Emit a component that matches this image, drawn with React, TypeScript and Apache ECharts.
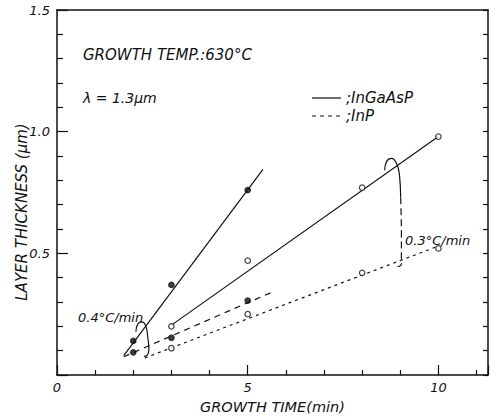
import React, { useEffect, useRef } from "react";
import * as echarts from "echarts";

// ---- data ----
const xLabels = ["0", "5", "10"];
const yLabels = ["0.5", "1.0", "1.5"];

// 0.4 °C/min
const ingaasp04Points = [[2, 0.14], [3, 0.37], [5, 0.76]];
const ingaasp04Line = [[1.75, 0.08], [5.4, 0.845]];
const inp04Points = [[2, 0.093], [3, 0.153], [5, 0.306]];
const inp04Line = [[1.75, 0.075], [5.63, 0.34]];

// 0.3 °C/min
const ingaasp03Points = [[3, 0.2], [5, 0.47], [8, 0.77], [10, 0.98]];
const ingaasp03Line = [[3, 0.205], [10, 0.98]];
const inp03Points = [[3, 0.11], [5, 0.25], [8, 0.42], [10, 0.52]];
const inp03Line = [[2.3, 0.07], [10, 0.53]];

// hand-drawn brackets linking the two layers of one run
const bracket04 = [
  [2.07, 0.178], [2.12, 0.21], [2.23, 0.218], [2.33, 0.2],
  [2.38, 0.154], [2.41, 0.105], [2.36, 0.081], [2.28, 0.077],
];
const bracket03Top = [
  [8.59, 0.841], [8.64, 0.877], [8.77, 0.89], [8.9, 0.87],
  [8.98, 0.82], [9.01, 0.73],
];
const bracket03Bottom = [
  [9.01, 0.73], [9.03, 0.57], [9.03, 0.457], [8.93, 0.445],
];

const FONT = "DejaVu Sans";
const INK = "#111";

export default function App() {
  const ref = useRef<HTMLDivElement>(null);

  useEffect(() => {
    if (!ref.current) return;
    const chart = echarts.init(ref.current, undefined, { renderer: "svg" });

    const lineSeries = (data: number[][], type: any, smooth = false) => ({
      type: "line",
      data,
      showSymbol: false,
      symbol: "none",
      smooth,
      lineStyle: { color: INK, width: 1.2, type },
      z: 2,
      silent: true,
    });
    const pointSeries = (data: number[][], filled: boolean) => ({
      type: "scatter",
      data,
      symbol: "circle",
      symbolSize: filled ? 5.5 : 5.5,
      itemStyle: {
        color: filled ? INK : "#fff",
        borderColor: INK,
        borderWidth: 1.2,
      },
      z: 3,
      silent: true,
    });

    const fmtY = (v: number) => {
      const k = Math.round(v * 10);
      if (k === 5) return yLabels[0];
      if (k === 10) return yLabels[1];
      if (k === 15) return yLabels[2];
      return "";
    };
    const fmtX = (v: number) => {
      const k = Math.round(v);
      if (k === 0) return xLabels[0];
      if (k === 5) return xLabels[1];
      if (k === 10) return xLabels[2];
      return "";
    };

    const labelStyle = {
      fontFamily: FONT,
      fontStyle: "italic",
      fontSize: 13,
      color: INK,
    };
    const txt = (text: string, x: number, y: number, size: number, rotation = 0, align = "left") => ({
      type: "text",
      x,
      y,
      rotation,
      style: {
        text,
        fontFamily: FONT,
        fontStyle: "italic",
        fontSize: size,
        fill: INK,
        align,
        verticalAlign: "middle",
      },
    });

    chart.setOption({
      animation: false,
      backgroundColor: "#fff",
      grid: { left: 57, top: 10, right: 2, bottom: 38, containLabel: false },
      xAxis: [
        {
          type: "value",
          min: 0,
          max: 11.3,
          interval: 5,
          position: "bottom",
          axisLine: { show: true, onZero: false, lineStyle: { color: INK, width: 1.5 } },
          axisTick: { show: true, inside: true, length: 10, lineStyle: { color: INK, width: 1.2 } },
          minorTick: { show: true, splitNumber: 5, length: 5, lineStyle: { color: INK, width: 1.2 } },
          axisLabel: { ...labelStyle, formatter: fmtX, margin: 6, showMaxLabel: false },
          splitLine: { show: false },
          name: "GROWTH TIME(min)",
          nameLocation: "middle",
          nameGap: 24,
          nameTextStyle: { ...labelStyle, fontSize: 14.5 },
        },
        {
          type: "value",
          min: 0,
          max: 11.3,
          position: "top",
          axisLine: { show: true, onZero: false, lineStyle: { color: INK, width: 1.5 } },
          axisTick: { show: false },
          axisLabel: { show: false },
          splitLine: { show: false },
        },
      ],
      yAxis: [
        {
          type: "value",
          min: 0,
          max: 1.5,
          interval: 0.5,
          position: "left",
          axisLine: { show: true, onZero: false, lineStyle: { color: INK, width: 1.5 } },
          axisTick: { show: true, inside: true, length: 11, lineStyle: { color: INK, width: 1.2 } },
          minorTick: { show: true, splitNumber: 5, length: 6, lineStyle: { color: INK, width: 1.2 } },
          axisLabel: { ...labelStyle, formatter: fmtY, margin: 7 },
          splitLine: { show: false },
        },
        {
          type: "value",
          min: 0,
          max: 1.5,
          interval: 0.5,
          position: "right",
          axisLine: { show: true, onZero: false, lineStyle: { color: INK, width: 1.5 } },
          axisTick: { show: true, inside: true, length: 5, lineStyle: { color: INK, width: 1.2 } },
          minorTick: { show: true, splitNumber: 5, length: 5, lineStyle: { color: INK, width: 1.2 } },
          axisLabel: { show: false },
          splitLine: { show: false },
        },
      ],
      series: [
        lineSeries(ingaasp04Line, "solid"),
        lineSeries(inp04Line, [6, 5]),
        lineSeries(ingaasp03Line, "solid"),
        lineSeries(inp03Line, [3, 4]),
        lineSeries(bracket04, "solid", true),
        lineSeries(bracket03Top, "solid", true),
        lineSeries(bracket03Bottom, [7, 4], true),
        pointSeries(ingaasp04Points, true),
        pointSeries(inp04Points, true),
        pointSeries(ingaasp03Points, false),
        pointSeries(inp03Points, false),
      ],
      graphic: [
        txt("LAYER THICKNESS (μm)", 22, 212, 15, Math.PI / 2, "center"),
        txt("GROWTH TEMP.:630°C", 83, 55, 15),
        txt("λ = 1.3μm", 83, 98, 14),
        {
          type: "line",
          shape: { x1: 312, y1: 98, x2: 341, y2: 98 },
          style: { stroke: INK, lineWidth: 1.2 },
        },
        txt(";InGaAsP", 346, 98, 15),
        {
          type: "line",
          shape: { x1: 312, y1: 116, x2: 341, y2: 116 },
          style: { stroke: INK, lineWidth: 1.2, lineDash: [4, 4] },
        },
        txt(";InP", 346, 116, 15),
        txt("0.4°C/min", 78, 317, 13),
        txt("0.3°C/min", 405, 240, 13),
      ],
    });

    return () => chart.dispose();
  }, []);

  return (
    <div
      ref={ref}
      style={{ width: 490, height: 419, position: "fixed", left: 0, top: 0, background: "#fff" }}
    />
  );
}
